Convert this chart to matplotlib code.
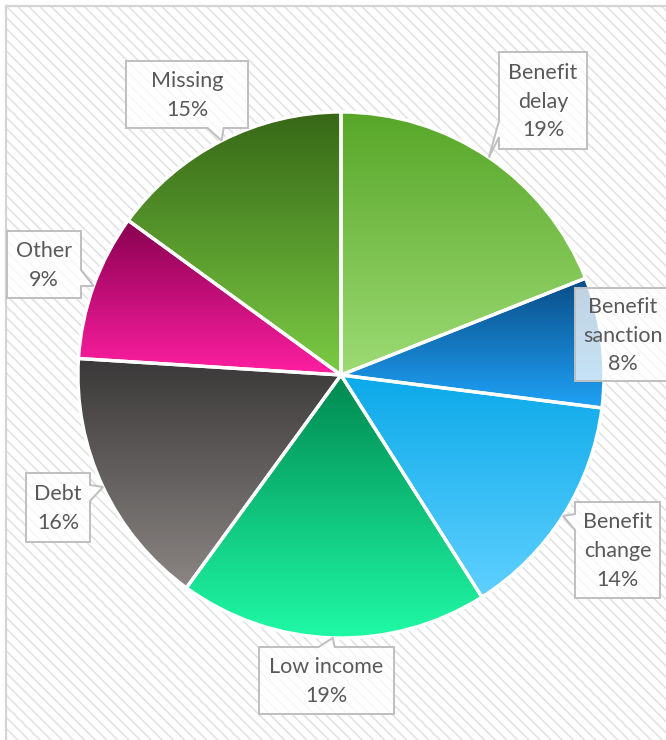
import numpy as np
import matplotlib
matplotlib.use("Agg")
import matplotlib.pyplot as plt
from matplotlib.patches import Rectangle, Polygon
from matplotlib.colors import to_rgb

# slices, clockwise from 12 o'clock
labels = ["Benefit\ndelay", "Benefit\nsanction", "Benefit\nchange", "Low income",
          "Debt", "Other", "Missing"]
values = [19, 8, 14, 19, 16, 9, 15]

# gradient colours (top, bottom) per slice
grad = [("#57a628", "#9ddb74"),
        ("#0a4c86", "#1fa2f7"),
        ("#0ba9e9", "#5fd0ff"),
        ("#008850", "#1ffaa5"),
        ("#3a3838", "#8b8684"),
        ("#880050", "#ff1fa2"),
        ("#366716", "#7bcb44")]

# label boxes in pixels (x0, y0, x1, y1), y from top
boxes = [(499, 52, 587, 149),
         (575, 288, 672, 381),
         (575, 502, 660, 598),
         (259, 647, 394, 714),
         (26, 473, 90, 542),
         (7, 231, 81, 298),
         (126, 61, 248, 128)]

W, H = 666, 740
CX, CY, R = 341, 375, 263


def fx(x):
    return x / W


def fy(y):
    return 1 - y / H


fig = plt.figure(figsize=(W / 100, H / 100), dpi=100)
plt.rcParams["hatch.linewidth"] = 1.2

# hatched chart background and frame
bg = Rectangle((fx(6), -0.1), 1.2, fy(6) + 0.1, transform=fig.transFigure,
               facecolor="white", edgecolor="#e3e3e3", hatch="\\\\\\", linewidth=0,
               zorder=-3)
fig.patches.append(bg)
frame = Rectangle((fx(6), -0.1), 1.2, fy(6) + 0.1, transform=fig.transFigure,
                  facecolor="none", edgecolor="#d4d4d4", linewidth=1.6, zorder=-2)
fig.patches.append(frame)

# pie axes
k = 1.05
ax = fig.add_axes([fx(CX - R * k), 1 - (CY + R * k) / H, 2 * R * k / W, 2 * R * k / H])
ax.axis("off")
ax.set_zorder(0)

wedges, _ = ax.pie(values, startangle=90, counterclock=False, radius=1,
                   wedgeprops=dict(facecolor="none", edgecolor="white", linewidth=2.4))

for w, (c0, c1) in zip(wedges, grad):
    bb = w.get_path().get_extents()
    t = np.linspace(0, 1, 256)[:, None]
    img = (1 - t) * np.array(to_rgb(c0)) + t * np.array(to_rgb(c1))
    im = ax.imshow(img[:, None, :].repeat(2, axis=1), extent=[bb.x0, bb.x1, bb.y0, bb.y1],
                   origin="upper", aspect="auto", interpolation="bilinear", zorder=1)
    im.set_clip_path(w)
    w.set_zorder(2)

ax.set_xlim(-k, k)
ax.set_ylim(-k, k)

# callout labels
for w, lab, v, (x0, y0, x1, y1) in zip(wedges, labels, values, boxes):
    mid = np.deg2rad((w.theta1 + w.theta2) / 2)
    tx, ty = CX + R * np.cos(mid), CY - R * np.sin(mid)
    pts = [(x0, y0), (x1, y0), (x1, y1), (x0, y1)]
    inside = x0 <= tx <= x1 and y0 <= ty <= y1
    if not inside:
        d = {"top": y0 - ty, "bottom": ty - y1, "left": x0 - tx, "right": tx - x1}
        side = max(d, key=d.get)
        hw = 8
        if side in ("top", "bottom"):
            c = min(max(tx, x0 + 14), x1 - 14)
            c = c - 6 if c > (x0 + x1) / 2 else c + 6
            if side == "top":
                pts = [(x0, y0), (c - hw, y0), (tx, ty), (c + hw, y0), (x1, y0), (x1, y1), (x0, y1)]
            else:
                pts = [(x0, y0), (x1, y0), (x1, y1), (c + hw, y1), (tx, ty), (c - hw, y1), (x0, y1)]
        else:
            c = min(max(ty, y0 + 14), y1 - 14)
            c = c - 6 if c > (y0 + y1) / 2 else c + 6
            if side == "left":
                pts = [(x0, y0), (x1, y0), (x1, y1), (x0, y1), (x0, c + hw), (tx, ty), (x0, c - hw)]
            else:
                pts = [(x0, y0), (x1, y0), (x1, c - hw), (tx, ty), (x1, c + hw), (x1, y1), (x0, y1)]
    poly = Polygon([(fx(a), fy(b)) for a, b in pts], closed=True, transform=fig.transFigure,
                   facecolor=(1, 1, 1, 0.75), edgecolor="#bfbfbf", linewidth=1.4, zorder=5)
    fig.patches.append(poly)
    xc = (x0 + x1) / 2 if x1 <= W else 623
    fig.text(fx(xc), fy((y0 + y1) / 2 + 1), f"{lab}\n{v}%", ha="center", va="center",
             fontsize=15.5, family=["Lato", "DejaVu Sans"], color="#595959",
             linespacing=1.55, zorder=6)

fig.savefig("out.png", dpi=100)
